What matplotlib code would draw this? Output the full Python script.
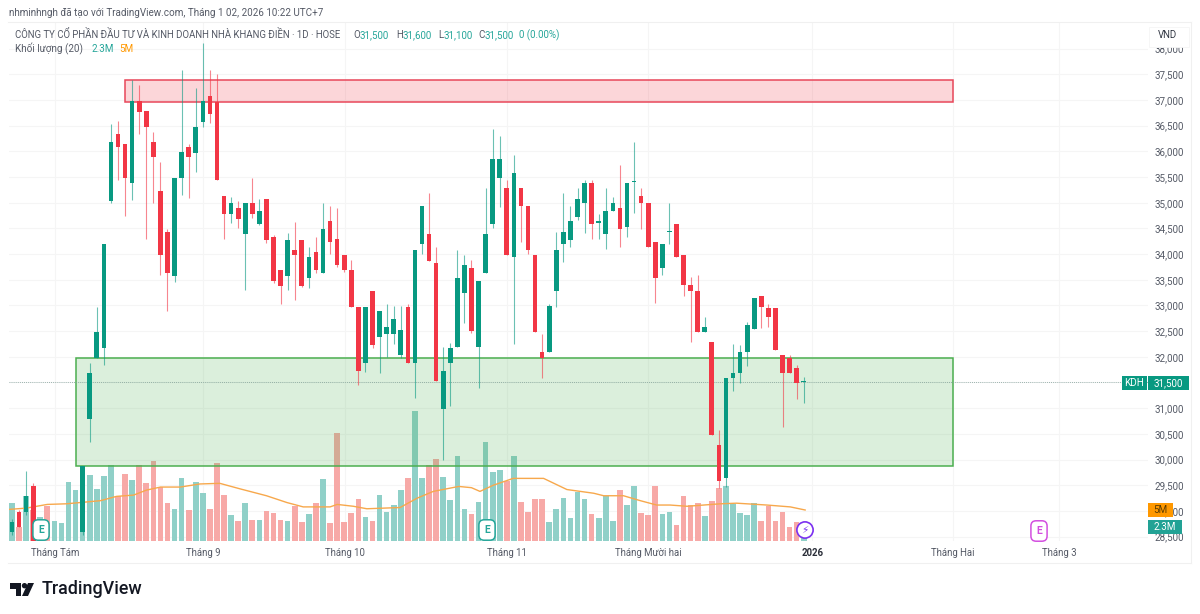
import numpy as np
import matplotlib
matplotlib.use("Agg")
import matplotlib.pyplot as plt
from matplotlib.patches import Rectangle, Polygon, Ellipse

# ---------- data ----------
N = 113
# index, open, high, low, close  (bars 4..9 lie below the visible range)
candles = [
(0,28590,28840,28530,28780),(1,28980,29020,28680,28680),(2,28980,29780,28920,29290),(3,29480,29540,28410,28410),
(10,28590,29870,28530,29870),(11,30790,31880,30340,31690),(12,31980,32970,31980,32490),(13,32170,34200,31840,34200),
(14,35030,36530,34990,36180),(15,36330,36590,35440,36090),(16,36140,36140,34740,35480),(17,35380,37390,35050,36980),
(18,36980,37290,36340,36770),(19,36790,36790,34290,36470),(20,36180,36380,34990,35890),(21,35230,35790,33590,33980),
(22,34430,34490,32890,33630),(23,33570,35480,33460,35480),(24,35480,37580,35150,35990),(25,36090,36140,35090,35890),
(26,35970,37230,35600,36470),(27,36570,38110,36470,36980),(28,37080,37580,36550,36730),(29,36960,37510,35440,35440),
(30,35130,35130,34290,34780),(31,34780,35110,34610,34990),(32,34900,35030,34510,34680),(33,34390,34990,33300,34990),
(34,34990,35480,34700,34780),(35,34590,35070,34570,34840),(36,35070,35070,34220,34270),(37,34330,34370,33440,33480),
(38,33690,33690,33030,33380),(39,33570,34410,33300,34270),(40,34080,34620,33110,33980),(41,34270,34270,33360,33380),
(42,33530,34140,33340,33940),(43,34040,34330,33630,33690),(44,33630,34990,33630,34490),(45,34640,34940,34000,34230),
(46,34290,34900,33750,33790),(47,33980,33980,33650,33690),(48,33690,33880,32970,32970),(49,32970,32970,31450,31720),
(50,31880,32970,31700,32970),(51,33280,33280,32170,32230),(52,32390,32890,31690,32890),(53,32450,33030,32000,32580),
(54,32450,32990,32250,32740),(55,32030,32990,31980,32520),(56,32970,33030,31880,31880),(57,31880,34080,31200,34080),
(58,34200,34940,34000,34940),(59,34390,35190,33870,33870),(60,33830,34140,31530,31530),(61,30980,32190,29990,31720),
(62,31880,32270,31040,32170),(63,32190,34080,32190,33530),(64,33240,33980,32660,33790),(65,33730,33880,32460,32500),
(66,32190,33480,31390,33480),(67,33630,35290,33630,34390),(68,34590,36430,34510,35850),(69,35480,36300,34920,35850),
(70,35290,35440,33980,33980),(71,33940,35930,32250,35580),(72,35290,35290,34230,34940),(73,34940,34940,34000,34080),
(74,33980,33980,32480,32480),(75,32090,32440,31590,31980),(76,32090,33030,32090,32990),(77,33280,34430,32970,34080),
(78,34200,35190,33850,34430),(79,34270,34940,34140,34640),(80,34720,35290,34660,35070),(81,34990,35440,34410,35380),
(82,35380,35440,34290,34590),(83,34610,34780,34290,34630),(84,34390,35290,34100,34840),(85,34840,35110,34840,34990),
(86,34900,35730,34140,34490),(87,34530,35380,34330,35380),(88,35400,36180,34800,35410),(89,35130,35290,34490,34990),
(90,34990,34990,34140,34140),(91,34230,34230,33050,33530),(92,33730,34200,33590,34200),(93,34430,34990,34200,34440),
(94,34590,34590,33940,33940),(95,33980,33980,33180,33400),(96,33400,33550,32290,33280),(97,33280,33590,32480,32480),
(98,32480,32780,32480,32580),(99,32290,32290,30480,30480),(100,30280,30580,29450,29580),(101,29640,31590,29470,31590),
(102,31590,32250,31340,31690),(103,31690,32230,31490,32090),(104,32090,32680,31820,32620),(105,32540,33150,32540,33150),
(106,33180,33180,32560,32970),(107,32950,33030,32580,32770),(108,32950,32950,32130,32130),(109,32030,32030,30630,31690),
(110,31980,32030,31690,31690),(111,31780,31840,31180,31490),(112,31500,31600,31100,31500),
]
volumes = [6.2,2.2,7.3,5.0,3.9,5.6,3.2,2.85,9.5,8.3,10.8,10.6,8.4,10.5,12.3,7.3,10.8,9.8,12.3,9.3,12.9,8.7,6.2,5.1,10.2,5.0,9.5,7.8,5.2,12.6,
           7.5,4.2,3.3,6.2,3.4,3.4,4.9,4.5,3.4,3.3,5.6,3.0,4.4,6.2,10.0,2.85,17.5,3.0,4.5,6.8,3.9,3.2,7.4,4.7,5.8,8.3,10.2,20.9,10.2,12.3,
           13.2,10.3,6.6,13.7,5.1,4.3,6.3,16.0,11.2,11.5,9.6,13.7,6.3,4.6,6.7,6.7,3.1,5.2,6.9,3.7,7.9,6.8,4.3,3.7,7.3,3.2,8.3,5.8,8.9,4.5,
           4.2,8.9,4.3,4.7,2.6,7.2,5.8,6.1,4.0,6.5,8.5,8.8,5.9,4.5,4.2,6.2,3.2,5.6,3.3,4.6,2.2,3.1,2.3]
vol_up = [1,0,1,0,1,0,1,1,1,1,1,1,1,1,1,0,0,1,0,0,0,0,0,1,1,0,1,1,0,0,
          0,1,0,1,0,1,0,0,0,1,0,0,1,0,1,0,0,0,0,0,1,0,1,1,1,1,0,1,1,0,
          0,1,1,1,1,0,1,1,1,1,0,1,0,0,0,0,1,1,1,1,1,1,0,1,1,1,0,1,1,0,
          0,0,1,1,0,0,0,0,1,0,0,1,1,1,1,1,0,0,0,0,0,0,1]
ma_index = [-0.4,2,4,5,7.7,12.5,14.8,17.2,19,21,23.8,26.6,29.4,32.3,36,38.9,41.2,45,46,48.3,50.2,54.9,57.3,59.6,63.2,65,66.2,68.1,70.9,75.2,78.5,82.3,83.7,86.5,88.9,91.2,93.1,95.5,100.2,102.5,106.8,110.1,112.2]
ma_values = [5.1,5.3,5.7,5.9,6.0,6.5,7.2,7.4,8.2,8.7,8.7,9.2,9.3,8.4,7.3,6.2,5.5,5.5,5.9,5.6,5.2,5.4,6.9,8.0,8.8,8.6,8.0,9.0,10.1,10.1,8.3,7.7,7.3,7.3,6.5,5.8,5.8,5.6,6.0,6.1,5.8,5.5,5.0]
last_price = 31500
last_ma = 5
last_vol = 2.3
price_ticks = list(range(28500, 38001, 500))
month_pos = [6.1, 27, 47.1, 70, 90, 113.2, 133.1, 148.1]
month_labels = ["Tháng Tám", "Tháng 9", "Tháng 10", "Tháng 11", "Tháng Mười hai", "2026", "Tháng Hai", "Tháng 3"]
zone_x = [(16.0, 133.1), (9.05, 133.1)]
zone_y = [(36960, 37390), (29870, 31980)]

# ---------- look ----------
W, H = 1200, 614
UP, DOWN = "#089981", "#f23645"
GRID = "#f5f5f5"
TXT = "#555a66"
FONT = ["Roboto", "DejaVu Sans"]
plt.rcParams["font.family"] = FONT
fig = plt.figure(figsize=(12, 6.14), dpi=100, facecolor="white")

def X(px): return px / W
def Y(px): return 1 - px / H

L, R, T, B = 9, 1148, 22, 541
rect = [X(L), Y(B), X(R) - X(L), Y(T) - Y(B)]
ax_v = fig.add_axes(rect, zorder=1)
ax = fig.add_axes(rect, zorder=2, sharex=ax_v)
ax.patch.set_visible(False)

# price scale: 37,000 at 100 px, 31,000 at 408 px
per_px = 19.47
ax.set_ylim(37000 - (B - 100) * per_px, 37000 + (100 - T) * per_px)
ax.set_xlim(-0.42, 160.7)
ax_v.set_ylim(0, (B - T) / 6.2)

# grid under everything
ax_v.set_yticks([])
ax_v.set_xticks(month_pos)
ax_v.tick_params(length=0, labelbottom=False)
ax_v.grid(axis="x", color=GRID, lw=0.8)
ax_v.set_axisbelow(True)
for p in price_ticks:
    ax_v.plot([0, 1], [(p - ax.get_ylim()[0]) / (ax.get_ylim()[1] - ax.get_ylim()[0])] * 2,
              transform=ax_v.transAxes, color=GRID, lw=0.8, zorder=0)

# volume
v_idx = np.arange(len(volumes))
v_col = ["#90d0c8" if u else "#f7a9a7" for u in vol_up]
ax_v.bar(v_idx, volumes, width=0.8, color=v_col, zorder=2)
ax_v.plot(ma_index, ma_values, color="#f7a84c", lw=1.0, zorder=3)

# zones
ax.add_patch(Rectangle((zone_x[0][0], zone_y[0][0]), zone_x[0][1] - zone_x[0][0], zone_y[0][1] - zone_y[0][0],
                       facecolor="#f23645", alpha=0.2, edgecolor="none", zorder=2))
ax.add_patch(Rectangle((zone_x[0][0], zone_y[0][0]), zone_x[0][1] - zone_x[0][0], zone_y[0][1] - zone_y[0][0],
                       facecolor="none", edgecolor="#e8475a", lw=1.1, zorder=2))
ax.add_patch(Rectangle((zone_x[1][0], zone_y[1][0]), zone_x[1][1] - zone_x[1][0], zone_y[1][1] - zone_y[1][0],
                       facecolor="#4caf50", alpha=0.2, edgecolor="none", zorder=2))
ax.add_patch(Rectangle((zone_x[1][0], zone_y[1][0]), zone_x[1][1] - zone_x[1][0], zone_y[1][1] - zone_y[1][0],
                       facecolor="none", edgecolor="#4caf50", lw=1.1, zorder=2))

# last-price line
ax.axhline(last_price, color="#7f9f98", lw=0.6, ls=(0, (1, 1.5)), zorder=2.5)

# candles
for i, o, h, l, c in candles:
    col = UP if c >= o else DOWN
    ax.vlines(i, l, h, color=col, lw=0.8, alpha=0.6, zorder=3)
    bottom, height = min(o, c), max(abs(c - o), 25)
    ax.bar(i, height, bottom=bottom, width=0.66, color=col, zorder=4)

# axes cosmetics
for a in (ax, ax_v):
    for s in a.spines.values():
        s.set_visible(False)
ax.set_xticks(month_pos)
ax.set_xticklabels(month_labels)
ax.tick_params(axis="x", length=0, labelsize=6.9, labelcolor=TXT, pad=5)
for lab, txt in zip(ax.get_xticklabels(), month_labels):
    if txt == "2026":
        lab.set_fontweight("bold")
        lab.set_color("#2a2e39")
ax.yaxis.tick_right()
ax.set_yticks(price_ticks)
ax.set_yticklabels([f"{p:,}" for p in price_ticks])
ax.tick_params(axis="y", length=0, labelsize=7.1, labelcolor=TXT, pad=5)

# outer frame lines
for (x0, y0, x1, y1) in [(8, 22, 1191, 22), (8, 563, 1191, 563), (1191, 22, 1191, 563)]:
    fig.add_artist(plt.Line2D([X(x0), X(x1)], [Y(y0), Y(y1)], color="#f0f0f0", lw=0.8))

# header text
def t(px, py, s, color=TXT, size=6.7, **kw):
    kw.setdefault("va", "center")
    kw.setdefault("zorder", 6)
    return fig.text(X(px), Y(py), s, color=color, fontsize=size, **kw)

t(9, 13, "nhminhngh đã tạo với TradingView.com, Tháng 1 02, 2026 10:22 UTC+7", size=7.15)
t(15, 35, "CÔNG TY CỔ PHẦN ĐẦU TƯ VÀ KINH DOANH NHÀ KHANG ĐIỀN · 1D · HOSE", size=6.98)
TEAL = "#26a69a"
for px, s, col in [(353, "O", TXT), (360, "31,500", TEAL), (396, "H", TXT), (403, "31,600", TEAL),
                   (438, "L", TXT), (444, "31,100", TEAL), (478, "C", TXT), (485, "31,500", TEAL),
                   (519, "0 (0.00%)", TEAL)]:
    t(px, 35, s, color=col, size=7.0)
t(15, 49, "Khối lượng (20)", size=7.1)
t(91, 49, "2.3M", color=TEAL, size=7.1)
t(119, 49, "5M", color="#ff9800", size=7.1)

# VND box (covers half of the 38,000 label)
fig.add_artist(Rectangle((X(1149), Y(47)), X(40), 20 / H, facecolor="white", edgecolor="#f5f5f5", lw=0.6, zorder=5))
t(1167, 35, "VND", color="#333844", size=6.9, ha="center")

# price tags
def tag(x0, x1, py, h, s, col, tcol="white", size=7.1):
    fig.add_artist(Rectangle((X(x0), Y(py + h / 2)), X(x1 - x0), h / H, facecolor=col, edgecolor="none", zorder=5))
    t((x0 + x1) / 2, py, s, color=tcol, size=size, ha="center")

tag(1122, 1147, 383, 14, "KDH", UP)
tag(1148, 1189, 383, 14, f"{last_price:,}", UP)
tag(1148, 1173, 510, 14, f"{last_ma}M", "#ff9800", "#5a3b00")
tag(1148, 1182, 527, 14, f"{last_vol}M", "#22a295")

# badges
def badge(px, py, col, s="E", **kw):
    t(px, py, s, color=col, size=7.5, ha="center", fontweight="bold",
      bbox=dict(boxstyle="round,pad=0.5", fc="white", ec=col, lw=1.1), **kw)

badge(41, 530, "#26a69a")
badge(487, 530, "#26a69a")
badge(1039, 531, "#d34fe0")
t(805, 530, "\u26a1", color="#7b2ff0", size=7.5, ha="center", family="DejaVu Sans",
  bbox=dict(boxstyle="circle,pad=0.3", fc="white", ec="#7b2ff0", lw=1.2))

# TradingView logo
dark = "#131722"
def poly(pts):
    fig.add_artist(Polygon([(X(a), Y(b)) for a, b in pts], closed=True, facecolor=dark, edgecolor="none", zorder=3))
poly([(10, 583), (21, 583), (21, 596), (15.5, 596), (15.5, 588.5), (10, 588.5)])
poly([(28, 583), (34, 583), (28, 596), (22, 596)])
fig.add_artist(Ellipse((X(24.5), Y(585.7)), 5.4 / W, 5.4 / H, facecolor=dark, edgecolor="none", zorder=3))
t(42, 589, "TradingView", color=dark, size=12.9, fontweight="medium")

fig.savefig("out.png", dpi=100, facecolor="white")
